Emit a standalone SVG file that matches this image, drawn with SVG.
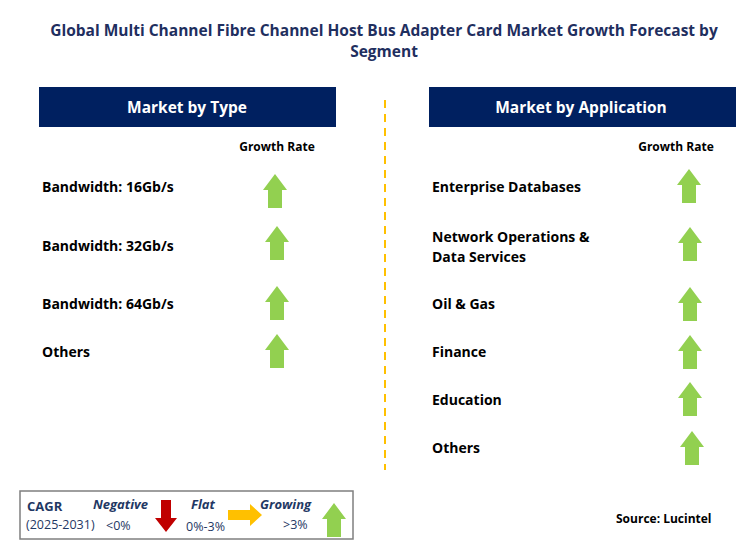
<svg xmlns="http://www.w3.org/2000/svg" width="753" height="553" viewBox="0 0 753 553">
<style>
text{font-family:"Open Sans","DejaVu Sans",sans-serif;font-weight:bold;font-size:14px;fill:#000}
.t{font-size:15.5px;fill:#1f2f5f}
.h{font-size:15.5px;fill:#fff}
.g{font-size:12px}
.hd{fill:#002060}
.l{font-size:13px;fill:#1f3864}
.li{font-size:13px;fill:#1f3864;font-style:italic}
.ln{font-size:12.5px;fill:#1f3864;font-weight:normal}
</style>
<defs>
<path id="up" d="M0 0 L12 16 L7 16 L7 34 L-7 34 L-7 16 L-12 16 Z" fill="#92d050"/>
</defs>
<rect width="753" height="553" fill="#fff"/>
<text class="t" x="384" y="36" text-anchor="middle">Global Multi Channel Fibre Channel Host Bus Adapter Card Market Growth Forecast by</text>
<text class="t" x="384" y="57" text-anchor="middle">Segment</text>
<g id="connectors"><line x1="385" y1="100" x2="385" y2="470" stroke="#ffc000" stroke-width="2" stroke-dasharray="8,6"/></g>
<g id="left-header"><rect class="hd" x="39" y="87" width="297" height="40"/><text class="h" x="187" y="113" text-anchor="middle">Market by Type</text></g>
<g id="right-header"><rect class="hd" x="429" y="87" width="307" height="40"/><text class="h" x="581" y="113" text-anchor="middle">Market by Application</text></g>
<text class="g" x="277" y="151" text-anchor="middle">Growth Rate</text>
<text class="g" x="676" y="151" text-anchor="middle">Growth Rate</text>
<g id="l1"><text x="42" y="192">Bandwidth: 16Gb/s</text><use href="#up" x="275" y="174"/></g>
<g id="l2"><text x="42" y="251">Bandwidth: 32Gb/s</text><use href="#up" x="277" y="226"/></g>
<g id="l3"><text x="42" y="309">Bandwidth: 64Gb/s</text><use href="#up" x="277" y="286"/></g>
<g id="l4"><text x="42" y="357">Others</text><use href="#up" x="277" y="334"/></g>
<g id="r1"><text x="432" y="192">Enterprise Databases</text><use href="#up" x="689" y="169"/></g>
<g id="r2"><text x="432" y="242">Network Operations &amp;</text><text x="432" y="262">Data Services</text><use href="#up" x="690" y="227"/></g>
<g id="r3"><text x="432" y="309">Oil &amp; Gas</text><use href="#up" x="690" y="287"/></g>
<g id="r4"><text x="432" y="357">Finance</text><use href="#up" x="690" y="335"/></g>
<g id="r5"><text x="432" y="405">Education</text><use href="#up" x="690" y="382"/></g>
<g id="r6"><text x="432" y="453">Others</text><use href="#up" x="692" y="431"/></g>
<g id="legend">
<rect x="20" y="491" width="333" height="48" fill="#fff" stroke="#7f7f7f" stroke-width="1.5"/>
<text class="l" x="27" y="511">CAGR</text>
<text class="ln" x="26" y="529">(2025-2031)</text>
<text class="li" x="93" y="509">Negative</text>
<text class="ln" x="106" y="530">&lt;0%</text>
<path d="M161 500 h10 v18 h6 l-11 14 l-11 -14 h6 Z" fill="#c00000"/>
<text class="li" x="191" y="509">Flat</text>
<text class="ln" x="186" y="531">0%-3%</text>
<path d="M228 510 h22 v-6 l12 11 l-12 11 v-6 h-22 Z" fill="#ffc000"/>
<text class="li" x="260" y="509">Growing</text>
<text class="ln" x="283" y="529">&gt;3%</text>
<use href="#up" x="334" y="503" transform="translate(0,0)"/>
</g>
<text x="616" y="523" style="font-size:12px">Source: Lucintel</text>
</svg>
